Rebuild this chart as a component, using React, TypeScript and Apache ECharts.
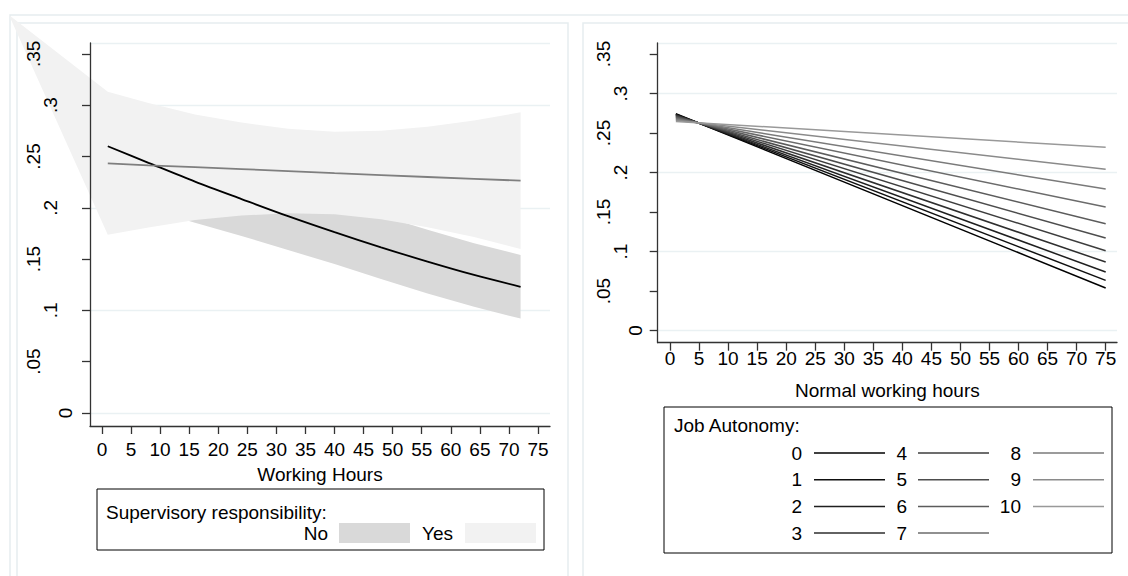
import React, { useEffect, useRef } from "react";
import * as echarts from "echarts";

// ---- Left panel: predicted values by working hours and supervisory responsibility
const hoursGrid = [1, 8, 16, 24, 32, 40, 48, 56, 64, 72];
const noFit = [0.26, 0.2438, 0.2255, 0.2085, 0.1918, 0.1762, 0.1615, 0.1475, 0.1345, 0.123];
const noUpper = [0.31, 0.2888, 0.2655, 0.2445, 0.2248, 0.2072, 0.1925, 0.1785, 0.1655, 0.154];
const noLower = [0.21, 0.1988, 0.1855, 0.1725, 0.1588, 0.1452, 0.1305, 0.1165, 0.1035, 0.092];
const yesFit = [0.2433, 0.2414, 0.2396, 0.2377, 0.2358, 0.2338, 0.2319, 0.23, 0.2282, 0.2264];
const yesUpper = [0.313, 0.302, 0.291, 0.283, 0.277, 0.274, 0.275, 0.279, 0.285, 0.293];
const yesLower = [0.1736, 0.1808, 0.1882, 0.1924, 0.1946, 0.1936, 0.1888, 0.181, 0.1714, 0.1598];
// the Yes band polygon opens from this vertex, outside the plot region
const yesBandOrigin = [-16, 0.388];

const supervisoryLabels = ["No", "Yes"];
const bandColors = ["#d9d9d9", "#f2f2f2"];
const fitColors = ["#000000", "#7f7f7f"];

// ---- Right panel: predicted values by normal working hours and job autonomy
const autonomyLevels = ["0", "1", "2", "3", "4", "5", "6", "7", "8", "9", "10"];
const autonomyHours = [1, 75];
const autonomyStart = [0.2743, 0.2738, 0.2732, 0.2725, 0.2718, 0.2709, 0.2699, 0.2688, 0.2675, 0.2662, 0.2647];
const autonomyEnd = [0.0538, 0.0635, 0.0741, 0.0867, 0.101, 0.1171, 0.1352, 0.1563, 0.1791, 0.2041, 0.2319];
const autonomyColors = ["#000000", "#0f0f0f", "#1f1f1f", "#2e2e2e", "#3d3d3d", "#4d4d4d", "#5c5c5c", "#6b6b6b", "#7a7a7a", "#8a8a8a", "#999999"];

// ---- Axis ticks
const xTicks = [0, 5, 10, 15, 20, 25, 30, 35, 40, 45, 50, 55, 60, 65, 70, 75];
const yTicks = [0, 0.05, 0.1, 0.15, 0.2, 0.25, 0.3, 0.35];

const FONT = "'Liberation Sans', Arial, Helvetica, sans-serif";
const GRID_COLOR = "#eaf1f3";
const FRAME_COLOR = "#e6edf0";
const AXIS_COLOR = "#333333";

const fmtY = (v: number) => (v === 0 ? "0" : String(+v.toFixed(2)).replace(/^0/, ""));
// Stata pushes rotated labels further out the longer they are
const byLength = (n: number) => yTicks.filter((v) => fmtY(v).length === n);

function xAxisFor(gridIndex: number, min: number, max: number, name: string, labelMargin: number, nameGap: number) {
  return {
    type: "value",
    gridIndex,
    min,
    max,
    z: 10,
    name,
    nameLocation: "middle",
    nameGap,
    nameTextStyle: { fontSize: 19, color: "#000", fontFamily: FONT },
    axisLine: { show: true, onZero: false, lineStyle: { color: AXIS_COLOR, width: 1.3 } },
    axisTick: { show: true, customValues: xTicks, length: 8, lineStyle: { color: AXIS_COLOR, width: 1.3 } },
    axisLabel: { customValues: xTicks, margin: labelMargin, fontSize: 19, color: "#000", fontFamily: FONT },
    splitLine: { show: false },
  };
}

// Per grid: one axis underneath carrying the gridlines, then the axis line with
// ticks and the staggered label rows drawn above the shaded bands.
function yAxesFor(gridIndex: number, min: number, max: number, margins: number[]) {
  const base = { type: "value", gridIndex, min, max, position: "left", offset: 0 };
  const gridAxis = {
    ...base,
    z: 0,
    axisLine: { show: false },
    axisTick: { show: false },
    axisLabel: { show: false },
    splitLine: { show: true, lineStyle: { color: GRID_COLOR, width: 1.3 } },
  };
  const labelAxes = [3, 2, 1].map((len, i) => ({
    ...base,
    z: 10,
    axisLine: { show: i === 0, onZero: false, lineStyle: { color: AXIS_COLOR, width: 1.3 } },
    axisTick: { show: i === 0, customValues: yTicks, length: 8, lineStyle: { color: AXIS_COLOR, width: 1.3 } },
    splitLine: { show: false },
    axisLabel: {
      customValues: byLength(len),
      rotate: 90,
      margin: margins[i],
      fontSize: 19,
      color: "#000",
      fontFamily: FONT,
      formatter: fmtY,
    },
  }));
  return [gridAxis, ...labelAxes];
}

function bandSeries(name: string, upper: number[], lower: number[], color: string, origin?: number[]) {
  const pts: number[][] = [];
  if (origin) pts.push(origin);
  hoursGrid.forEach((h, i) => pts.push([h, upper[i]]));
  for (let i = hoursGrid.length - 1; i >= 0; i--) pts.push([hoursGrid[i], lower[i]]);
  return {
    type: "custom",
    name,
    xAxisIndex: 0,
    yAxisIndex: 0,
    z: 1,
    clip: false,
    silent: true,
    data: [[hoursGrid[0], upper[0]]],
    renderItem: (params: any, api: any) => {
      if (params.dataIndex !== 0) return null;
      return {
        type: "polygon",
        shape: { points: pts.map((p) => api.coord(p)) },
        style: { fill: color, stroke: "none" },
      };
    },
  };
}

function buildGraphic() {
  const text = (x: number, y: number, t: string, align = "left") => ({
    type: "text",
    x,
    y,
    silent: true,
    style: { text: t, fill: "#000", font: `19px ${FONT}`, textAlign: align, textVerticalAlign: "middle" },
  });
  const frames = [
    { x: 10, y: 15, width: 1400, height: 800 },
    { x: 17, y: 23, width: 551, height: 800 },
    { x: 583, y: 23, width: 800, height: 800 },
  ].map((s) => ({
    type: "rect",
    silent: true,
    z: -10,
    shape: s,
    style: { fill: "none", stroke: FRAME_COLOR, lineWidth: 1.5 },
  }));

  // Supervisory responsibility key
  const leftKey = [
    { type: "rect", silent: true, shape: { x: 97, y: 489, width: 447, height: 61 }, style: { fill: "#fff", stroke: "#000", lineWidth: 1 } },
    text(106, 512, "Supervisory responsibility:"),
    text(328, 533, supervisoryLabels[0], "right"),
    { type: "rect", silent: true, shape: { x: 339, y: 523, width: 71, height: 20 }, style: { fill: bandColors[0] } },
    text(453, 533, supervisoryLabels[1], "right"),
    { type: "rect", silent: true, shape: { x: 465, y: 523, width: 71, height: 20 }, style: { fill: bandColors[1] } },
  ];

  // Job autonomy key, filled column by column
  const colLabelRight = [802, 907, 1021];
  const colLineStart = [814, 918, 1033];
  const rightKey: any[] = [
    { type: "rect", silent: true, shape: { x: 664, y: 407, width: 448, height: 146 }, style: { fill: "#fff", stroke: "#000", lineWidth: 1 } },
    text(674, 425, "Job Autonomy:"),
  ];
  autonomyLevels.forEach((lvl, i) => {
    const col = Math.floor(i / 4);
    const row = i % 4;
    const y = 453 + row * 26.7;
    rightKey.push(text(colLabelRight[col], y, lvl, "right"));
    rightKey.push({
      type: "line",
      silent: true,
      shape: { x1: colLineStart[col], y1: y, x2: colLineStart[col] + 71, y2: y },
      style: { stroke: autonomyColors[i], lineWidth: 1.5 },
    });
  });
  return [...frames, ...leftKey, ...rightKey];
}

export default function App() {
  const ref = useRef<HTMLDivElement>(null);

  useEffect(() => {
    if (!ref.current) return;
    const chart = echarts.init(ref.current, null, { renderer: "svg" });

    const leftY = yAxesFor(0, -0.0127, 0.3606, [47, 30, 15]);
    const rightY = yAxesFor(1, -0.0154, 0.3639, [45, 28, 13]);

    const series: any[] = [
      bandSeries(supervisoryLabels[0], noUpper, noLower, bandColors[0]),
      bandSeries(supervisoryLabels[1], yesUpper, yesLower, bandColors[1], yesBandOrigin),
      {
        type: "line",
        name: "No fit",
        xAxisIndex: 0,
        yAxisIndex: 0,
        showSymbol: false,
        silent: true,
        smooth: 0.3,
        data: hoursGrid.map((h, i) => [h, noFit[i]]),
        lineStyle: { color: fitColors[0], width: 1.8 },
      },
      {
        type: "line",
        name: "Yes fit",
        xAxisIndex: 0,
        yAxisIndex: 0,
        showSymbol: false,
        silent: true,
        data: hoursGrid.map((h, i) => [h, yesFit[i]]),
        lineStyle: { color: fitColors[1], width: 1.8 },
      },
      ...autonomyLevels.map((lvl, i) => ({
        type: "line",
        name: `Autonomy ${lvl}`,
        xAxisIndex: 1,
        yAxisIndex: 4,
        showSymbol: false,
        silent: true,
        data: [
          [autonomyHours[0], autonomyStart[i]],
          [autonomyHours[1], autonomyEnd[i]],
        ],
        lineStyle: { color: autonomyColors[i], width: 1.5 },
      })),
    ];

    chart.setOption({
      animation: false,
      backgroundColor: "#ffffff",
      grid: [
        { left: 90, top: 43, width: 460, height: 383 },
        { left: 657.7, top: 43, width: 459.3, height: 299.7 },
      ],
      xAxis: [
        xAxisFor(0, -2.06, 77.06, "Working Hours", 14, 39),
        xAxisFor(1, -2.12, 76.95, "Normal working hours", 6, 38),
      ],
      yAxis: [...leftY, ...rightY],
      series,
      graphic: buildGraphic(),
    });

    return () => chart.dispose();
  }, []);

  return <div ref={ref} style={{ position: "fixed", left: 0, top: 0, width: 1128, height: 576 }} />;
}
